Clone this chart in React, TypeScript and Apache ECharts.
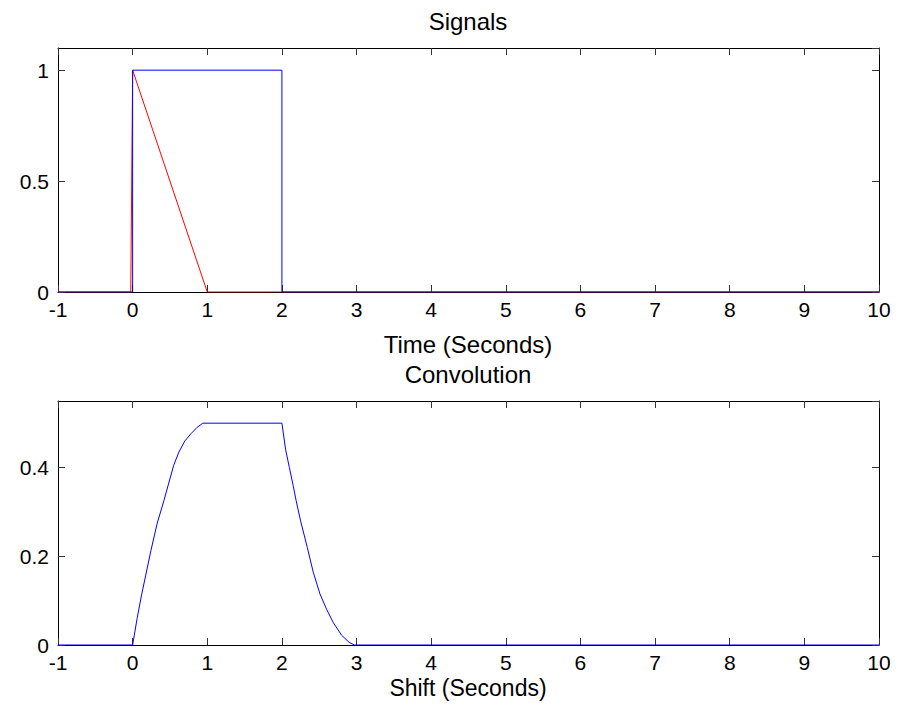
import React, { useEffect, useRef } from "react";
import * as echarts from "echarts";

// Top panel: signals
const rectT = [-1, 0, 0, 2, 2, 10];
const rectY = [0, 0, 1, 1, 0, 0];
const rampT = [-1, -0.025, 0, 1, 10];
const rampY = [0, 0, 1, 0, 0];

// Bottom panel: convolution
const convT = [-1, 0, 0.06, 0.12, 0.245, 0.33, 0.42, 0.55, 0.62, 0.7, 0.78, 0.86, 0.94, 2.0, 2.05, 2.1, 2.15, 2.19, 2.25, 2.34, 2.42, 2.51, 2.6, 2.69, 2.8, 2.9, 2.97, 10];
const convY = [0, 0, 0.06, 0.113, 0.213, 0.275, 0.326, 0.405, 0.435, 0.46, 0.476, 0.49, 0.5, 0.5, 0.44, 0.4, 0.36, 0.326, 0.28, 0.22, 0.164, 0.115, 0.08, 0.05, 0.022, 0.006, 0, 0];

const xMin = -1;
const xMax = 10;
const topYMax = 1.1;
const topYInterval = 0.5;
const botYMax = 0.55;
const botYInterval = 0.2;

const titles = ["Signals", "Convolution"];
const xNames = ["Time (Seconds)", "Shift (Seconds)"];

const FONT = "Liberation Sans, Arial, sans-serif";
const FS = 21;
const FS_T = 24;

const zip = (a: number[], b: number[]) => a.map((v, i) => [v, b[i]]);

export default function App() {
  const ref = useRef<HTMLDivElement>(null);
  useEffect(() => {
    if (!ref.current) return;
    const chart = echarts.init(ref.current, null, { renderer: "svg" });
    const tickStyle = { show: true, inside: true, length: 7, lineStyle: { color: "#333", width: 1 } };
    const lineStyle = { show: true, lineStyle: { color: "#000", width: 1 } };
    const mkX = (gi: number, pos: "bottom" | "top") => ({
      type: "value",
      gridIndex: gi,
      position: pos,
      min: xMin,
      max: xMax,
      interval: 1,
      axisLine: { ...lineStyle, onZero: false },
      axisTick: tickStyle,
      splitLine: { show: false },
      axisLabel:
        pos === "bottom"
          ? { show: true, fontSize: FS, lineHeight: 17, fontFamily: FONT, color: "#000", margin: 9 }
          : { show: false },
    });
    const fmt = (v: number) => String(Math.round(v * 100) / 100);
    const mkY = (gi: number, pos: "left" | "right", max: number, interval: number) => ({
      type: "value",
      gridIndex: gi,
      position: pos,
      min: 0,
      max,
      interval,
      axisLine: { ...lineStyle, onZero: false },
      axisTick: tickStyle,
      splitLine: { show: false },
      axisLabel:
        pos === "left"
          ? { show: true, fontSize: FS, fontFamily: FONT, color: "#000", margin: 9, formatter: fmt, showMaxLabel: false }
          : { show: false },
    });
    const textEl = (text: string, x: number, y: number, fs: number) => ({
      type: "text",
      x,
      y,
      style: {
        text,
        fontSize: fs,
        lineHeight: 20,
        fontFamily: FONT,
        fill: "#000",
        align: "center",
        verticalAlign: "middle",
      },
    });
    chart.setOption({
      animation: false,
      backgroundColor: "#fff",
      grid: [
        { left: 58, top: 48, width: 821, height: 244 },
        { left: 58, top: 401, width: 821, height: 244 },
      ],
      xAxis: [mkX(0, "bottom"), mkX(0, "top"), mkX(1, "bottom"), mkX(1, "top")],
      yAxis: [
        mkY(0, "left", topYMax, topYInterval),
        mkY(0, "right", topYMax, topYInterval),
        mkY(1, "left", botYMax, botYInterval),
        mkY(1, "right", botYMax, botYInterval),
      ],
      graphic: [
        textEl(titles[0], 468, 21, FS_T),
        textEl(xNames[0], 468, 344, FS_T),
        textEl(titles[1], 468, 374, FS_T),
        textEl(xNames[1], 468, 688, 23),
      ],
      series: [
        {
          type: "line",
          xAxisIndex: 0,
          yAxisIndex: 0,
          data: zip(rampT, rampY),
          symbol: "none",
          lineStyle: { color: "#ff0000", width: 1 },
        },
        {
          type: "line",
          xAxisIndex: 0,
          yAxisIndex: 0,
          data: zip(rectT, rectY),
          symbol: "none",
          lineStyle: { color: "#0000ff", width: 1 },
        },
        {
          type: "line",
          xAxisIndex: 2,
          yAxisIndex: 2,
          data: zip(convT, convY),
          symbol: "none",
          lineStyle: { color: "#0000ff", width: 1 },
        },
      ],
    });
    return () => chart.dispose();
  }, []);
  return (
    <div
      ref={ref}
      style={{ position: "fixed", left: 0, top: 0, width: 901, height: 705, background: "#fff" }}
    />
  );
}
